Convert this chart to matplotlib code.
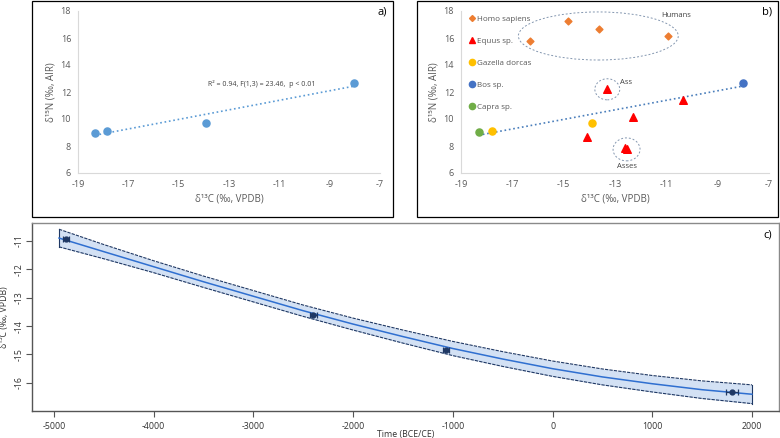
import numpy as np
import matplotlib
matplotlib.use('Agg')
import matplotlib.pyplot as plt
from matplotlib.patches import Rectangle, Ellipse
from matplotlib.lines import Line2D

plt.rcParams['font.family'] = ['Open Sans', 'DejaVu Sans']
plt.rcParams['axes.unicode_minus'] = False

# panel a: all samples
a_c13 = [-18.32, -17.83, -13.93, -8.03]
a_n15 = [9.00, 9.13, 9.73, 12.69]

# panel b: by taxon
homo_c = [-16.31, -14.82, -13.62, -10.95]
homo_n = [15.76, 17.26, 16.64, 16.15]
equus_c = [-13.31, -10.34, -12.31, -14.10, -12.61, -12.52]
equus_n = [12.20, 11.41, 10.12, 8.64, 7.85, 7.76]
gazella_c = [-13.88, -17.78]
gazella_n = [9.73, 9.13]
bos_c = [-8.00]
bos_n = [12.69]
capra_c = [-18.30]
capra_n = [9.01]

# panel c: model curve and dated samples
years = [-4950, -4500, -4000, -3500, -3000, -2500, -2000, -1500, -1000, -500, 0, 500, 1000, 1500, 2000]
curve = [-10.90, -11.38, -11.91, -12.44, -12.95, -13.46, -13.93, -14.37, -14.79, -15.16,
         -15.50, -15.79, -16.03, -16.24, -16.40]
halfwidth = [0.31, 0.25, 0.21, 0.20, 0.20, 0.20, 0.21, 0.23, 0.25, 0.26, 0.27, 0.28, 0.29, 0.31, 0.33]
pt_year = [-4880, -2399, -1068, 1803]
pt_c13 = [-10.94, -13.60, -14.84, -16.33]
pt_err = [35, 35, 30, 60]

grey_txt = '#595959'
axis_grey = '#d9d9d9'

fig = plt.figure(figsize=(7.8, 4.38), dpi=100)

# frames around panels a and b
for x0 in (32, 417):
    fig.patches.append(Rectangle((x0 / 780, 1 - 217 / 438), 361 / 780, 216 / 438,
                                 transform=fig.transFigure, fill=False,
                                 edgecolor='black', lw=0.9))


def excel_axes(ax):
    ax.set_xlim(-19, -7)
    ax.set_ylim(6, 18)
    ax.set_xticks(range(-19, -6, 2))
    ax.set_yticks(range(6, 19, 2))
    for s in ('top', 'right'):
        ax.spines[s].set_visible(False)
    for s in ('left', 'bottom'):
        ax.spines[s].set_color(axis_grey)
        ax.spines[s].set_linewidth(0.8)
    ax.tick_params(length=0, labelsize=6.5, labelcolor=grey_txt, pad=5)
    ax.set_xlabel('δ¹³C (‰, VPDB)', fontsize=7, color=grey_txt, labelpad=3)
    ax.set_ylabel('δ¹⁵N (‰, AIR)', fontsize=7, color=grey_txt, labelpad=3)
    ax.patch.set_alpha(0)


fit = np.polyfit(a_c13, a_n15, 1)
fx = np.array([min(a_c13), max(a_c13)])

# ---- panel a
axa = fig.add_axes([78 / 780, 1 - 173 / 438, 302 / 780, 162 / 438])
excel_axes(axa)
axa.plot(fx, np.polyval(fit, fx), ls=':', color='#5B9BD5', lw=1.2)
axa.scatter(a_c13, a_n15, s=26, color='#5B9BD5', zorder=3)
axa.text(-11.7, 12.6, 'R² = 0.94, F(1,3) = 23.46,  p < 0.01', fontsize=5,
         color='#404040', ha='center', va='center')
fig.text(387 / 780, 1 - 12 / 438, 'a)', fontsize=8, ha='right', va='center')

# ---- panel b
axb = fig.add_axes([461 / 780, 1 - 173 / 438, 308 / 780, 162 / 438])
excel_axes(axb)
axb.plot(fx, np.polyval(fit, fx), ls=':', color='#4a7ebb', lw=1.2)
axb.scatter(homo_c, homo_n, marker='D', s=12, color='#ED7D31', zorder=3)
axb.scatter(equus_c, equus_n, marker='^', s=30, color='#FF0000', zorder=3)
axb.scatter(gazella_c, gazella_n, s=26, color='#FFC000', zorder=3)
axb.scatter(bos_c, bos_n, s=26, color='#4472C4', zorder=3)
axb.scatter(capra_c, capra_n, s=26, color='#70AD47', zorder=3)

ell_kw = dict(fill=False, ls=(0, (2, 2)), edgecolor='#8497B0', lw=0.7)
axb.add_patch(Ellipse((-13.65, 16.15), 6.23, 3.56, **ell_kw))
axb.add_patch(Ellipse((-13.30, 12.20), 0.97, 1.56, **ell_kw))
axb.add_patch(Ellipse((-12.55, 7.75), 1.05, 1.70, **ell_kw))
axb.text(-10.6, 17.65, 'Humans', fontsize=5.5, color='#404040', ha='center', va='center')
axb.text(-12.55, 12.7, 'Ass', fontsize=5.5, color='#404040', ha='center', va='center')
axb.text(-12.55, 6.45, 'Asses', fontsize=5.5, color='#404040', ha='center', va='center')

handles = [
    Line2D([], [], ls='', marker='D', ms=3, color='#ED7D31'),
    Line2D([], [], ls='', marker='^', ms=4, color='#FF0000'),
    Line2D([], [], ls='', marker='o', ms=4.5, color='#FFC000'),
    Line2D([], [], ls='', marker='o', ms=4.5, color='#4472C4'),
    Line2D([], [], ls='', marker='o', ms=4.5, color='#70AD47'),
]
labels = ['Homo sapiens', 'Equus sp.', 'Gazella dorcas', 'Bos sp.', 'Capra sp.']
leg = axb.legend(handles, labels, loc='upper left', bbox_to_anchor=(0.018, 0.995),
                 frameon=False, fontsize=5.8, labelspacing=1.8, handlelength=0.6,
                 handletextpad=0.35, borderaxespad=0)
for t in leg.get_texts():
    t.set_color(grey_txt)
fig.text(772 / 780, 1 - 12 / 438, 'b)', fontsize=8, ha='right', va='center')

# ---- panel c
axc = fig.add_axes([32 / 780, 1 - 411 / 438, 747 / 780, 188 / 438])
yrs = np.array(years)
cv = np.array(curve)
hw = np.array(halfwidth)
axc.fill_between(yrs, cv - hw, cv + hw, color='#d3e1f4', lw=0)
axc.plot(yrs, cv + hw, color='#1f3864', ls=(0, (3, 1)), lw=0.8)
axc.plot(yrs, cv - hw, color='#1f3864', ls=(0, (3, 1)), lw=0.8)
axc.plot([yrs[0], yrs[0]], [cv[0] - hw[0], cv[0] + hw[0]], color='#1f3864', lw=0.8)
axc.plot([yrs[-1], yrs[-1]], [cv[-1] - hw[-1], cv[-1] + hw[-1]], color='#1f3864', lw=0.8)
axc.plot(yrs, cv, color='#2f6fd0', lw=1.1)
axc.errorbar(pt_year, pt_c13, xerr=pt_err, fmt='o', ms=3.5, color='#1f3864',
             ecolor='#1f3864', elinewidth=0.9, capsize=2.5, capthick=0.9, zorder=4)
axc.set_xlim(-5221, 2271)
axc.set_ylim(-16.99, -10.37)
axc.set_xticks(range(-5000, 2001, 1000))
axc.set_yticks(range(-16, -10))
for s in axc.spines.values():
    s.set_color('#8a8a8a')
    s.set_linewidth(1.0)
axc.spines['bottom'].set_color('#555555')
axc.spines['left'].set_color('#555555')
axc.tick_params(direction='out', length=4, width=0.8, color='#555555',
                labelsize=6.3, labelcolor='#333333', pad=4)
axc.tick_params(axis='y', pad=2)
for t in axc.get_yticklabels():
    t.set_rotation(90)
    t.set_va('center')
axc.set_xlabel('Time (BCE/CE)', fontsize=6.3, color='#333333', labelpad=-1)
axc.set_ylabel('δ¹³C (‰, VPDB)', fontsize=6.3, color='#333333', labelpad=4)
fig.text(772 / 780, 1 - 235 / 438, 'c)', fontsize=8, ha='right', va='center')

fig.savefig('out.png', dpi=100)
